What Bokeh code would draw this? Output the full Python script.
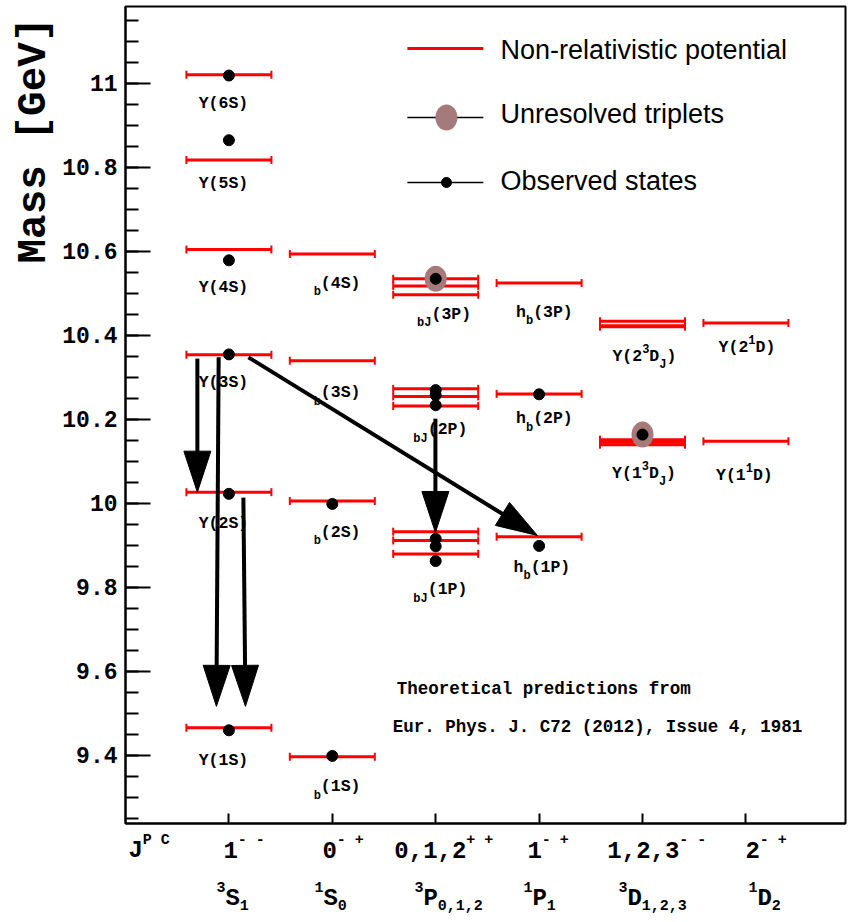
import math
from bokeh.plotting import figure
from bokeh.models import ColumnDataSource, Whisker, TeeHead, Label, FixedTicker, Range1d
from bokeh.core.properties import value
from bokeh.embed import file_html
from bokeh.resources import INLINE

# ---------------- data ----------------
columns = [1, 2, 3, 4, 5, 6]
row1_markup = ["J^{P C}", "1^{- -}", "0^{- +}", "0,1,2^{+ +}", "1^{- +}", "1,2,3^{- -}", "2^{- +}"]
row2_markup = ["^{3}S_{1}", "^{1}S_{0}", "^{3}P_{0,1,2}", "^{1}P_{1}", "^{3}D_{1,2,3}", "^{1}D_{2}"]

# non-relativistic potential predictions (column, mass GeV)
pred_col = [1, 1, 1, 1, 1, 1,
            2, 2, 2, 2,
            3, 3, 3, 3, 3, 3, 3, 3, 3,
            4, 4, 4,
            5, 5, 5, 5, 5, 5,
            6, 6]
pred_mass = [11.021, 10.818, 10.605, 10.354, 10.027, 9.466,
             10.594, 10.340, 10.006, 9.397,
             10.535, 10.518, 10.497, 10.273, 10.255, 10.232, 9.933, 9.912, 9.880,
             10.525, 10.261, 9.921,
             10.421, 10.423, 10.434, 10.140, 10.146, 10.152,
             10.430, 10.148]

# observed states
obs_col = [1, 1, 1, 1, 1, 1, 2, 2, 3, 3, 3, 3, 3, 3, 3, 4, 4, 5]
obs_mass = [11.019, 10.865, 10.579, 10.355, 10.023, 9.460,
            9.999, 9.399,
            10.535, 10.270, 10.258, 10.234, 9.916, 9.898, 9.863,
            10.260, 9.899,
            10.164]

# unresolved triplets
unres_col = [3, 5]
unres_mass = [10.535, 10.164]

# state names (markup) and their label anchors
state_names = ["Y(6S)", "Y(5S)", "Y(4S)", "Y(3S)", "Y(2S)", "Y(1S)",
               "_{b}(4S)", "_{b}(3S)", "_{b}(2S)", "_{b}(1S)",
               "_{bJ}(3P)", "_{bJ}(2P)", "_{bJ}(1P)",
               "h_{b}(3P)", "h_{b}(2P)", "h_{b}(1P)",
               "Y(2^{3}D_{J})", "Y(1^{3}D_{J})", "Y(2^{1}D)", "Y(1^{1}D)"]
state_label_x = [0.947] * 6 + [2.046] * 4 + [3.081, 3.045, 3.045] + [4.051, 4.051, 4.027] + [5.018, 5.015, 6.010, 5.985]
state_label_y = [10.952, 10.762, 10.514, 10.289, 9.953, 9.388,
                 10.524, 10.264, 9.931, 9.326,
                 10.450, 10.176, 9.795,
                 10.455, 10.202, 9.848,
                 10.350, 10.072, 10.372, 10.067]

# transitions (arrows)
arrow_x0 = [0.695, 0.901, 1.140, 1.189, 2.997]
arrow_y0 = [10.345, 10.348, 10.014, 10.348, 10.202]
arrow_x1 = [0.695, 0.879, 1.160, 3.983, 2.997]
arrow_y1 = [10.027, 9.517, 9.517, 9.924, 9.931]

y_ticks = [9.4, 9.6, 9.8, 10.0, 10.2, 10.4, 10.6, 10.8, 11.0]
y_tick_labels = ["9.4", "9.6", "9.8", "10", "10.2", "10.4", "10.6", "10.8", "11"]

legend_labels = ["Non-relativistic potential", "Unresolved triplets", "Observed states"]
note_lines = ["Theoretical predictions from", "Eur. Phys. J. C72 (2012), Issue 4, 1981"]
y_title = "Mass [GeV]"

# ---------------- layout constants ----------------
X0, X1 = 0.0, 6.963
Y0, Y1 = 9.238095, 11.183333
FW, FH = 720, 817
SX = FW / (X1 - X0)
SY = FH / (Y1 - Y0)
BAR_HW = 0.411
RED = "#ff0000"
BROWN = "#a47a7a"
MONO = "Liberation Mono"

p = figure(frame_width=FW, frame_height=FH,
           x_range=Range1d(X0, X1), y_range=Range1d(Y0, Y1),
           output_backend="svg", toolbar_location=None,
           min_border_left=125, min_border_right=3, min_border_top=6, min_border_bottom=95)
p.xgrid.visible = False
p.ygrid.visible = False
p.outline_line_color = "black"
p.outline_line_width = 2
p.background_fill_color = "white"
p.border_fill_color = "white"

# y axis
ya = p.yaxis[0]
minor = [round(9.25 + 0.05 * i, 2) for i in range(39)]
ya.ticker = FixedTicker(ticks=y_ticks, minor_ticks=minor)
ya.major_label_overrides = {t: l for t, l in zip(y_ticks, y_tick_labels)}
ya.major_tick_in = 25
ya.major_tick_out = 0
ya.minor_tick_in = 13
ya.minor_tick_out = 0
ya.major_tick_line_width = 2
ya.minor_tick_line_width = 2
ya.axis_line_width = 2
ya.major_label_text_font = MONO
ya.major_label_text_font_style = "bold"
ya.major_label_text_font_size = "23px"
ya.major_label_standoff = 8
ya.major_label_text_color = "black"

# x axis
xa = p.xaxis[0]
xa.ticker = FixedTicker(ticks=columns, minor_ticks=[])
xa.major_tick_in = 10
xa.major_tick_out = 0
xa.major_tick_line_width = 2
xa.axis_line_width = 2
xa.major_label_text_font_size = "0px"
xa.major_label_text_color = None


def parse(markup):
    pieces, buf, i = [], "", 0
    while i < len(markup):
        ch = markup[i]
        if ch in "^_" and i + 1 < len(markup) and markup[i + 1] == "{":
            if buf:
                pieces.append((buf, "n"))
                buf = ""
            j = markup.index("}", i)
            pieces.append((markup[i + 2:j], "sup" if ch == "^" else "sub"))
            i = j + 1
        else:
            buf += ch
            i += 1
    if buf:
        pieces.append((buf, "n"))
    return pieces


TX = dict(x=[], y=[], t=[], xo=[], yo=[], fs=[])


def rich(x, y, markup, fs, fss, sup_dy, sub_dy, align="center", base_yo=0.0):
    """Rich text pieces; offsets in screen px (glyph y_offset: positive = down)."""
    pieces = parse(markup)
    widths = [len(t) * 0.6 * (fs if k == "n" else fss) for t, k in pieces]
    off = -sum(widths) / 2 if align == "center" else 0.0
    for (t, k), w in zip(pieces, widths):
        dy = 0 if k == "n" else (sup_dy if k == "sup" else sub_dy)
        TX["x"].append(x)
        TX["y"].append(y)
        TX["t"].append(t)
        TX["xo"].append(off)
        TX["yo"].append(base_yo - dy)
        TX["fs"].append(f"{fs if k == 'n' else fss}px")
        off += w


# predicted levels as error-bar-like whiskers
src_pred = ColumnDataSource(dict(base=pred_mass,
                                 lower=[c - BAR_HW for c in pred_col],
                                 upper=[c + BAR_HW for c in pred_col]))
wk = Whisker(source=src_pred, base="base", lower="lower", upper="upper",
             dimension="width", line_color=RED, line_width=3, level="underlay",
             lower_head=TeeHead(size=8, line_color=RED, line_width=2),
             upper_head=TeeHead(size=8, line_color=RED, line_width=2))
p.add_layout(wk)

# unresolved triplets
p.ellipse(x=unres_col, y=unres_mass, width=22, height=26,
          width_units="screen", height_units="screen",
          fill_color=BROWN, line_color=None)
# observed states
p.scatter(x=obs_col, y=obs_mass, size=11, color="black")

# state labels
for name, lx, ly in zip(state_names, state_label_x, state_label_y):
    rich(lx, ly, name, 16.5, 12, 8, -9)

# quantum-number labels under the axis (anchored just inside the frame, shifted down)
YB = Y0 + 0.001
row1_x = [0.028, 0.947, 1.904, 2.600, 3.887, 4.660, 5.995]
row2_x = [0.879, 1.827, 2.794, 3.848, 4.767, 6.024]
for m, rx in zip(row1_markup, row1_x):
    rich(rx, YB, m, 24, 15, 10, -7, align="left", base_yo=27)
for m, rx in zip(row2_markup, row2_x):
    rich(rx, YB, m, 24, 15, 11, -7, align="left", base_yo=75)

# arrows
HL, HW = 41.0, 27.0
shaft_x0, shaft_y0, shaft_x1, shaft_y1, head_xs, head_ys = [], [], [], [], [], []
for ax0, ay0, ax1, ay1 in zip(arrow_x0, arrow_y0, arrow_x1, arrow_y1):
    dx, dy = (ax1 - ax0) * SX, (ay1 - ay0) * SY
    L = math.hypot(dx, dy)
    ux, uy = dx / L, dy / L
    nx, ny = -uy, ux
    bx, by = ax1 - HL * ux / SX, ay1 - HL * uy / SY
    shaft_x0.append(ax0); shaft_y0.append(ay0)
    shaft_x1.append(bx + 2 * ux / SX); shaft_y1.append(by + 2 * uy / SY)
    head_xs.append([ax1, bx + HW / 2 * nx / SX, bx - HW / 2 * nx / SX])
    head_ys.append([ay1, by + HW / 2 * ny / SY, by - HW / 2 * ny / SY])

# all rich texts
p.text(x="x", y="y", text="t", x_offset="xo", y_offset="yo", text_font_size="fs",
       source=ColumnDataSource(TX), text_font=value(MONO), text_font_style="bold",
       text_align="left", text_baseline="middle", text_color="black", level="overlay")

p.segment(shaft_x0, shaft_y0, shaft_x1, shaft_y1, line_width=4, color="black", level="overlay")
p.patches(head_xs, head_ys, fill_color="black", line_color="black", line_width=1, level="overlay")

# y-axis title (anchored inside the frame, shifted left)
p.text(x=[X0 + 0.002], y=[11 - 180 / 420], text=[y_title], x_offset=-92, angle=math.pi / 2,
       text_font=value(MONO), text_font_style="bold", text_font_size="41px",
       text_align="left", text_baseline="middle", text_color="black", level="overlay")

# legend (drawn by hand)
LEG_X0, LEG_X1, LEG_MX, LEG_TX = 2.726, 3.461, 3.104, 3.626
leg_line_y = [11.0833, 10.9190, 10.7643]
leg_text_y = [11.0786, 10.9262, 10.7667]
p.segment([LEG_X0], [leg_line_y[0]], [LEG_X1], [leg_line_y[0]], line_width=3, color=RED)
p.segment([LEG_X0, LEG_X0], leg_line_y[1:], [LEG_X1, LEG_X1], leg_line_y[1:], line_width=1.3, color="black")
p.ellipse(x=[LEG_MX], y=[leg_line_y[1]], width=22, height=26, width_units="screen",
          height_units="screen", fill_color=BROWN, line_color=None)
p.scatter(x=[LEG_MX], y=[leg_line_y[2]], size=10, color="black")
for txt, ty in zip(legend_labels, leg_text_y):
    p.add_layout(Label(x=LEG_TX, y=ty, text=txt, text_align="left", text_baseline="middle",
                       text_font="Liberation Sans", text_font_size="27px", text_color="black"))

# reference note
for txt, nx_, ny_ in zip(note_lines, [2.623, 2.585], [9.5595, 9.4667]):
    p.add_layout(Label(x=nx_, y=ny_, text=txt, text_align="left", text_baseline="middle",
                       text_font=MONO, text_font_style="bold", text_font_size="17.5px",
                       text_color="black"))

open("out.html", "w").write(file_html(p, INLINE))
